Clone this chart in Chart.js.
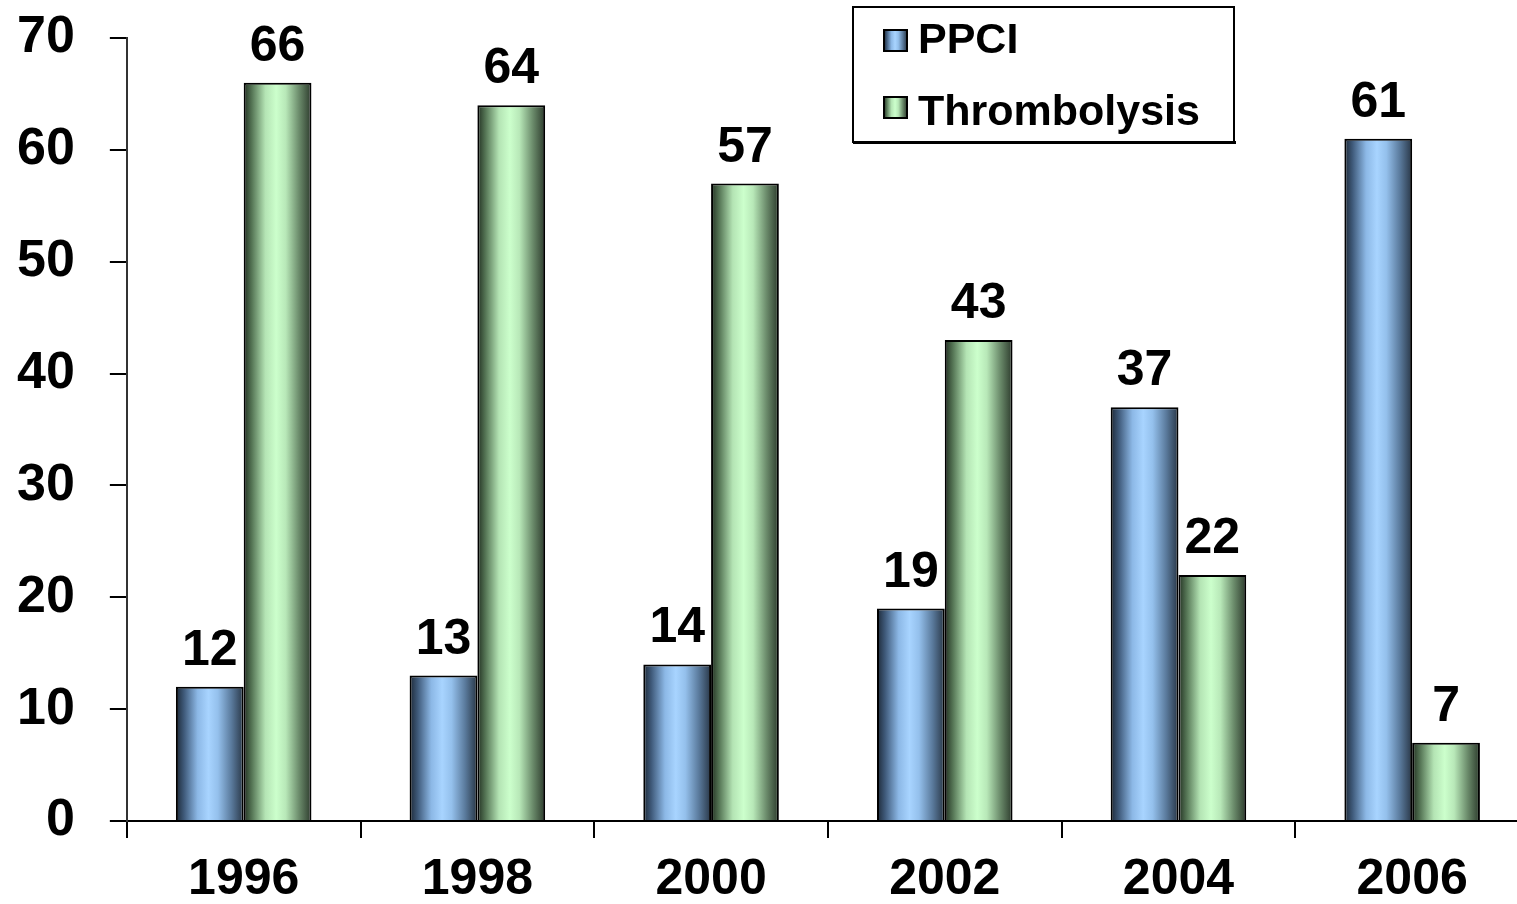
<!DOCTYPE html>
<html>
<head>
<meta charset="utf-8">
<script src="https://cdn.jsdelivr.net/npm/chart.js@4.4.0/dist/chart.umd.min.js"></script>
<style>
html,body{margin:0;padding:0;background:#fff;overflow:hidden;width:1517px;height:904px;}
#wrap{position:absolute;left:0;top:0;width:1530px;height:904px;}
</style>
</head>
<body>
<div id="wrap"><canvas id="c" width="1530" height="904"></canvas></div>
<script>
const categories = ['1996', '1998', '2000', '2002', '2004', '2006'];
const ppci = [12, 13, 14, 19, 37, 61];
const thrombolysis = [66, 64, 57, 43, 22, 7];
const seriesNames = ['PPCI', 'Thrombolysis'];
const yTicks = [0, 10, 20, 30, 40, 50, 60, 70];

const FONT = '"Liberation Sans", Arial, sans-serif';
const CAT_PCT = 0.58;

const blueStops = [[0,'#1c2836'],[0.12,'#3f5a7a'],[0.32,'#8cb8e6'],[0.48,'#a8d4ff'],[0.62,'#94c0ec'],[0.82,'#5a7a9c'],[1,'#283646']];
const greenStops = [[0,'#223022'],[0.12,'#557555'],[0.32,'#b4e4b4'],[0.48,'#ccffcc'],[0.62,'#b8e8b8'],[0.82,'#6a8a6a'],[1,'#2c3a2c']];

function makeGrad(ctx, x0, x1, stops){
  const g = ctx.createLinearGradient(x0, 0, x1, 0);
  stops.forEach(s => g.addColorStop(s[0], s[1]));
  return g;
}

function barFill(stops, dsIndex){
  return function(context){
    const chart = context.chart;
    const xs = chart.scales.x;
    if (!xs || context.dataIndex === undefined) return stops[3][1];
    const catW = (xs.right - xs.left) / categories.length;
    const bw = catW * CAT_PCT / 2;
    const c = xs.getPixelForValue(context.dataIndex);
    const x0 = dsIndex === 0 ? c - bw : c;
    if (!isFinite(x0) || !isFinite(bw) || bw <= 0) return stops[3][1];
    return makeGrad(chart.ctx, x0, x0 + bw, stops);
  };
}

const valueLabels = {
  id: 'valueLabels',
  afterDatasetsDraw(chart){
    const ctx = chart.ctx;
    ctx.save();
    ctx.font = 'bold 50px ' + FONT;
    ctx.fillStyle = '#000';
    ctx.textAlign = 'center';
    ctx.textBaseline = 'alphabetic';
    chart.data.datasets.forEach((ds, di) => {
      const meta = chart.getDatasetMeta(di);
      meta.data.forEach((el, i) => {
        ctx.fillText(String(ds.data[i]), el.x, el.y - 22);
      });
    });
    ctx.restore();
  }
};

const boxLegend = {
  id: 'boxLegend',
  afterDraw(chart){
    const ctx = chart.ctx;
    ctx.save();
    const bx = 853, by = 7, bw = 381, bh = 135;
    ctx.fillStyle = '#fff';
    ctx.fillRect(bx, by, bw, bh);
    ctx.strokeStyle = '#000';
    ctx.lineWidth = 2;
    ctx.strokeRect(bx, by, bw, bh);
    ctx.fillStyle = '#000';
    ctx.fillRect(bx, by + bh - 1, bw + 2, 3);
    const rows = [{y: 30, base: 53, stops: blueStops}, {y: 97, base: 125, stops: greenStops}];
    chart.data.datasets.forEach((ds, i) => {
      const r = rows[i];
      const mx = 884, mw = 23, mh = 21;
      ctx.fillStyle = makeGrad(ctx, mx, mx + mw, r.stops);
      ctx.fillRect(mx, r.y, mw, mh);
      ctx.strokeStyle = '#000';
      ctx.lineWidth = 2;
      ctx.strokeRect(mx, r.y, mw, mh);
      ctx.fillStyle = '#000';
      ctx.font = 'bold 43px ' + FONT;
      ctx.textAlign = 'left';
      ctx.textBaseline = 'alphabetic';
      ctx.fillText(ds.label, 918, r.base);
    });
    ctx.restore();
  }
};

new Chart(document.getElementById('c'), {
  type: 'bar',
  data: {
    labels: categories,
    datasets: [
      {label: seriesNames[0], data: ppci, backgroundColor: barFill(blueStops, 0), borderColor: '#000', borderWidth: 2, categoryPercentage: CAT_PCT, barPercentage: 1},
      {label: seriesNames[1], data: thrombolysis, backgroundColor: barFill(greenStops, 1), borderColor: '#000', borderWidth: 2, categoryPercentage: CAT_PCT, barPercentage: 1}
    ]
  },
  options: {
    responsive: false,
    animation: false,
    devicePixelRatio: 1,
    layout: {padding: {top: 0, right: 1, left: -18, bottom: -18}},
    plugins: {legend: {display: false}, tooltip: {enabled: false}},
    scales: {
      x: {
        grid: {display: true, drawOnChartArea: false, drawTicks: true, tickLength: 17, color: '#000', lineWidth: 2, offset: true},
        border: {display: true, color: '#000', width: 2},
        ticks: {font: {family: FONT, size: 50, weight: 'bold', lineHeight: 1}, color: '#000', padding: 17, maxRotation: 0}
      },
      y: {
        min: 0, max: 70,
        afterBuildTicks(scale){ scale.ticks = yTicks.map(v => ({value: v})); },
        grid: {display: true, drawOnChartArea: false, drawTicks: true, tickLength: 17, color: '#000', lineWidth: 2},
        border: {display: true, color: '#333', width: 2},
        ticks: {font: {family: FONT, size: 52, weight: 'bold', lineHeight: 0.12}, color: '#000', padding: 35}
      }
    }
  },
  plugins: [valueLabels, boxLegend]
});
</script>
</body>
</html>
